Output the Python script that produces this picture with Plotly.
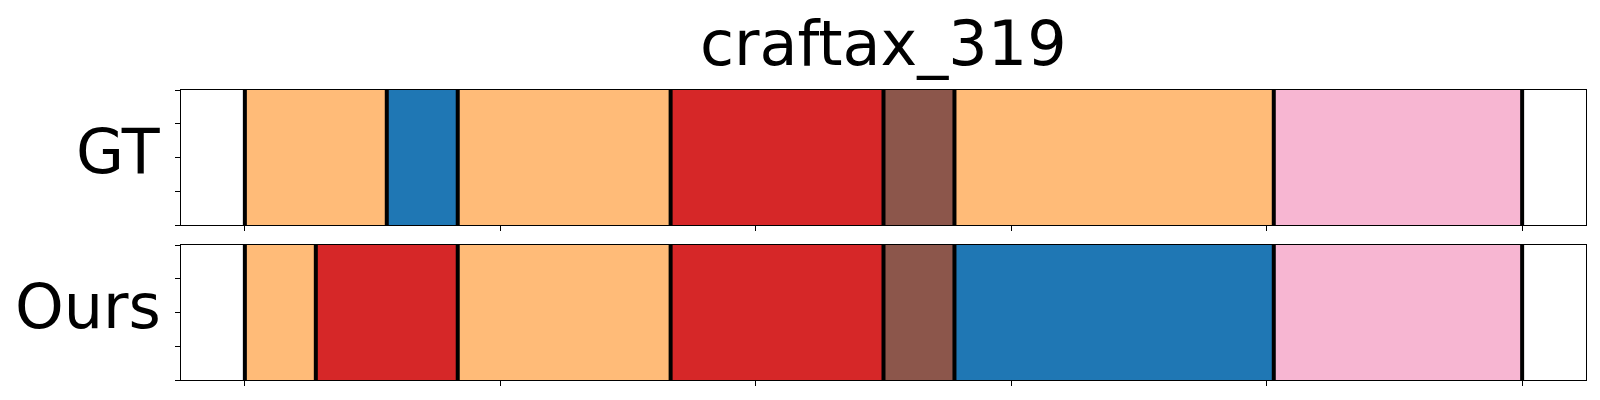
import plotly.graph_objects as go
from plotly.subplots import make_subplots

# ---- data ----
title = "craftax_319"
row_labels = ["GT", "Ours"]
total_steps = 36
gt_durations = [4, 2, 6, 6, 2, 9, 7]
gt_colors = ["#ffbb78", "#1f77b4", "#ffbb78", "#d62728", "#8c564b", "#ffbb78", "#f7b6d2"]
ours_durations = [2, 4, 6, 6, 2, 9, 7]
ours_colors = ["#ffbb78", "#d62728", "#ffbb78", "#d62728", "#8c564b", "#1f77b4", "#f7b6d2"]
n_xticks = 6
y_ticks = [0, 0.25, 0.5, 0.75, 1.0]

FONT = "DejaVu Sans"
LABEL_SIZE = 62

fig = make_subplots(rows=2, cols=1, shared_xaxes=False, vertical_spacing=20 / 290)

rows = [(gt_durations, gt_colors), (ours_durations, ours_colors)]
for r, (durs, cols) in enumerate(rows, start=1):
    starts = []
    s = 0
    for d in durs:
        starts.append(s)
        s += d
    centers = [st + d / 2 for st, d in zip(starts, durs)]
    fig.add_trace(go.Bar(x=centers, y=[1] * len(durs), width=durs, base=0,
                         marker=dict(color=cols, line=dict(width=0)),
                         showlegend=False, hoverinfo="skip"), row=r, col=1)
    bounds = starts + [s]
    lx, ly = [], []
    for b in bounds:
        lx += [b, b, None]
        ly += [0, 1, None]
    fig.add_trace(go.Scatter(x=lx, y=ly, mode="lines",
                             line=dict(color="black", width=4),
                             showlegend=False, hoverinfo="skip"), row=r, col=1)

pad = 0.05 * total_steps
xtickvals = [total_steps * i / (n_xticks - 1) for i in range(n_xticks)]
for r in (1, 2):
    fig.update_xaxes(range=[-pad, total_steps + pad], tickvals=xtickvals, showticklabels=False,
                     ticks="outside", ticklen=5, tickwidth=1, tickcolor="black",
                     showline=True, mirror=True, linecolor="black", linewidth=1.3,
                     showgrid=False, zeroline=False, row=r, col=1)
    fig.update_yaxes(range=[0, 1], tickvals=y_ticks, showticklabels=False,
                     ticks="outside", ticklen=5, tickwidth=1, tickcolor="black",
                     showline=True, mirror=True, linecolor="black", linewidth=1.3,
                     showgrid=False, zeroline=False, row=r, col=1)

annots = []
for i, lab in enumerate(row_labels):
    yref = "y domain" if i == 0 else "y2 domain"
    xref = "x domain" if i == 0 else "x2 domain"
    annots.append(dict(text=lab, xref=xref, yref=yref, x=0, y=0.5, xanchor="right",
                       yanchor="middle", xshift=-18, yshift=6, showarrow=False,
                       font=dict(family=FONT, size=LABEL_SIZE, color="black")))
annots.append(dict(text=title, xref="x domain", yref="y domain", x=0.5, y=1,
                   xanchor="center", yanchor="bottom", yshift=9, borderpad=0, showarrow=False,
                   font=dict(family=FONT, size=LABEL_SIZE, color="black")))

fig.update_layout(width=1584, height=384, margin=dict(l=173, r=6, t=82, b=12),
                  plot_bgcolor="white", paper_bgcolor="white", barmode="overlay",
                  annotations=annots, font=dict(family=FONT))

fig.write_html("out.html")
